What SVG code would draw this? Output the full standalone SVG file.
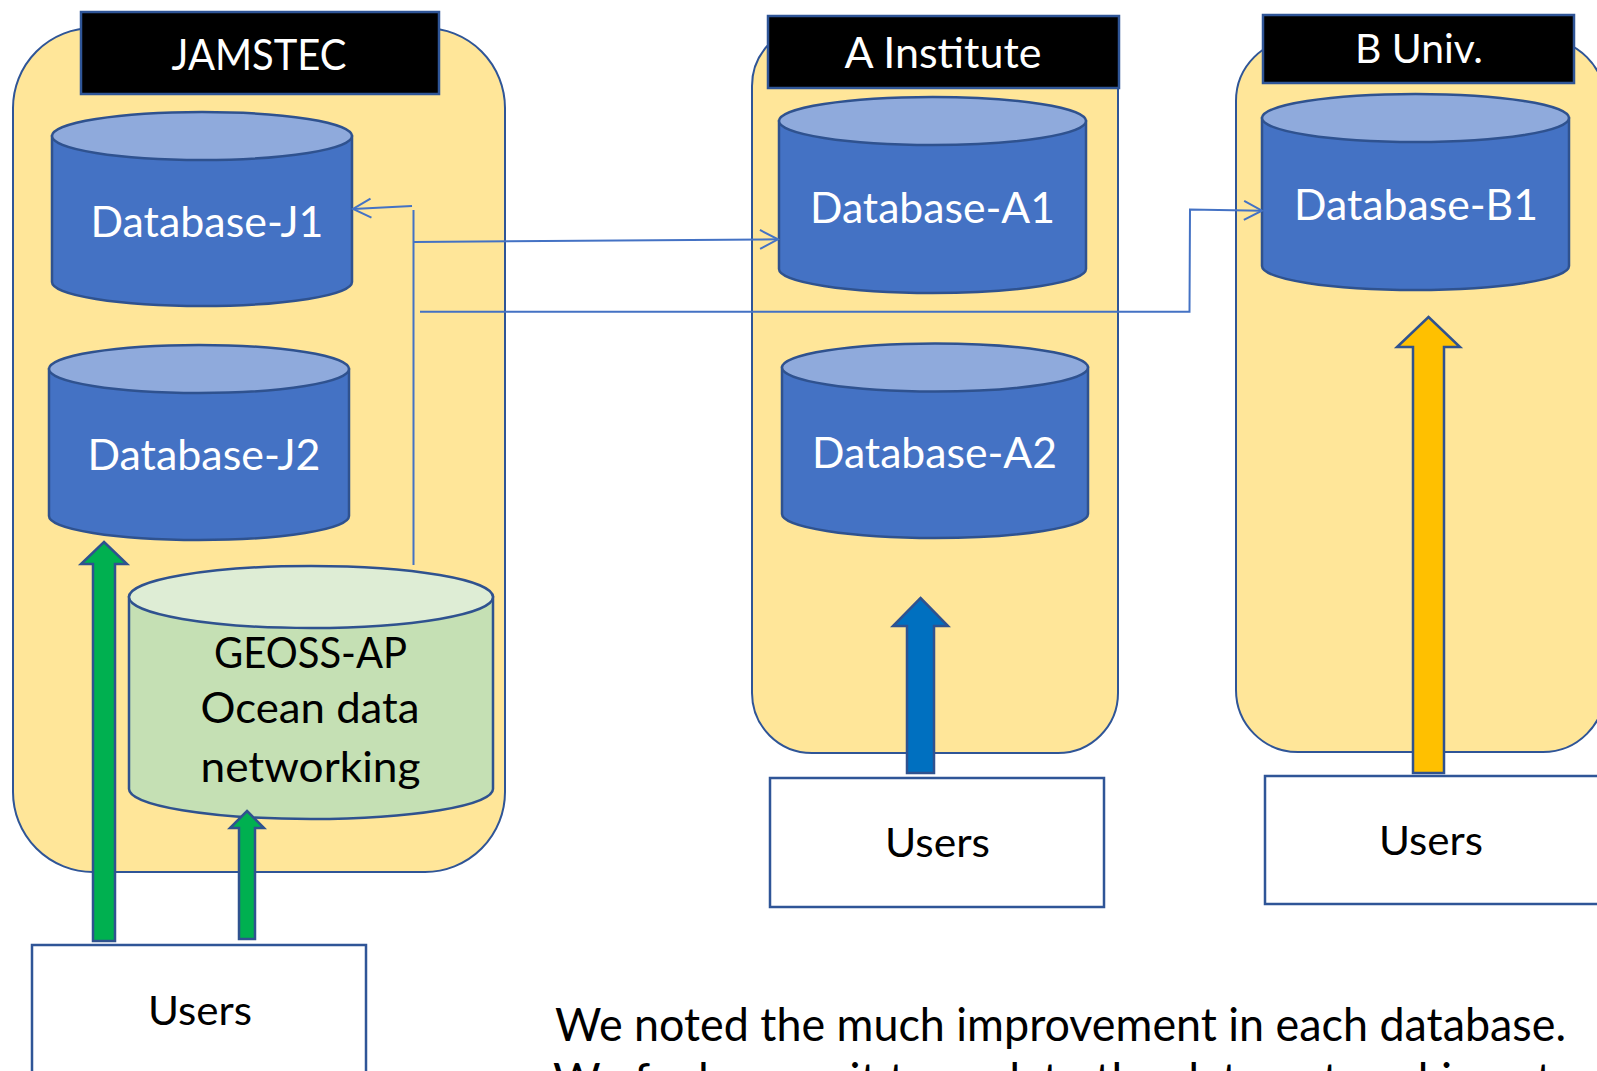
<svg xmlns="http://www.w3.org/2000/svg" width="1597" height="1071" viewBox="0 0 1597 1071">
<style>
.cont{fill:#FFE699;stroke:#2F5597;stroke-width:2}
.lab{fill:#000;stroke:#2F5597;stroke-width:2.5}
.body{fill:#4472C4;stroke:#2F528F;stroke-width:2.5}
.top{fill:#8FAADC;stroke:#2F528F;stroke-width:2.5}
.gbody{fill:#C5E0B4;stroke:#2F528F;stroke-width:2.5}
.gtop{fill:#DEEDD5;stroke:#2F528F;stroke-width:2.5}
.usr{fill:#fff;stroke:#2F5597;stroke-width:2.5}
.wt{font-family:Lato,"Open Sans",sans-serif;fill:#fff;text-anchor:middle}
.bt{font-family:Lato,"Open Sans",sans-serif;fill:#000;text-anchor:middle}
.conn{fill:none;stroke:#4472C4;stroke-width:2}
.arr{stroke:#2F528F;stroke-width:2.5;stroke-linejoin:miter}
</style>
<defs>
<marker id="open" markerUnits="userSpaceOnUse" viewBox="0 0 22 22" markerWidth="22" markerHeight="22" refX="19" refY="11" orient="auto">
<path d="M1,1.5 L19,11 L1,20.5" fill="none" stroke="#4472C4" stroke-width="2"/>
</marker>
</defs>
<rect width="1597" height="1071" fill="#fff"/>

<g id="jamstec">
<rect class="cont" x="13" y="28" width="492" height="844" rx="80"/>
<rect class="lab" x="81" y="12" width="358" height="82"/>
<text class="wt" x="259" y="70" font-size="42" textLength="175" lengthAdjust="spacingAndGlyphs">JAMSTEC</text>
</g>
<g id="a-institute">
<rect class="cont" x="752" y="26" width="366" height="727" rx="60"/>
<rect class="lab" x="768" y="16" width="351" height="72"/>
<text class="wt" x="943" y="68" font-size="42" textLength="197" lengthAdjust="spacingAndGlyphs">A Institute</text>
</g>
<g id="b-univ">
<rect class="cont" x="1236" y="39" width="369" height="713" rx="62"/>
<rect class="lab" x="1263" y="15" width="311" height="68"/>
<text class="wt" x="1419" y="63" font-size="40" textLength="128" lengthAdjust="spacingAndGlyphs">B Univ.</text>
</g>

<g id="db-j1">
<path class="body" d="M52,136 L52,282 A150,24 0 0 0 352,282 L352,136 Z"/>
<ellipse class="top" cx="202" cy="136" rx="150" ry="24"/>
<text class="wt" x="207" y="237" font-size="42" textLength="233" lengthAdjust="spacingAndGlyphs">Database-J1</text>
</g>
<g id="db-j2">
<path class="body" d="M49,369 L49,516 A150,24 0 0 0 349,516 L349,369 Z"/>
<ellipse class="top" cx="199" cy="369" rx="150" ry="24"/>
<text class="wt" x="204" y="470" font-size="42" textLength="233" lengthAdjust="spacingAndGlyphs">Database-J2</text>
</g>
<g id="geoss">
<path class="gbody" d="M129,597 L129,789 A182,30 0 0 0 493,789 L493,597 Z"/>
<ellipse class="gtop" cx="311" cy="597" rx="182" ry="31"/>
<text class="bt" x="310.5" y="668" font-size="42" textLength="193" lengthAdjust="spacingAndGlyphs">GEOSS-AP</text>
<text class="bt" x="310" y="722.5" font-size="42" textLength="219" lengthAdjust="spacingAndGlyphs">Ocean data</text>
<text class="bt" x="310.5" y="782" font-size="42" textLength="220" lengthAdjust="spacingAndGlyphs">networking</text>
</g>
<g id="db-a1">
<path class="body" d="M779,121 L779,269 A153.5,24 0 0 0 1086,269 L1086,121 Z"/>
<ellipse class="top" cx="932.5" cy="121" rx="153.5" ry="24"/>
<text class="wt" x="932.5" y="223" font-size="42" textLength="245" lengthAdjust="spacingAndGlyphs">Database-A1</text>
</g>
<g id="db-a2">
<path class="body" d="M782,367.5 L782,514 A153,24 0 0 0 1088,514 L1088,367.5 Z"/>
<ellipse class="top" cx="935" cy="367.5" rx="153" ry="24"/>
<text class="wt" x="934.5" y="468" font-size="42" textLength="245" lengthAdjust="spacingAndGlyphs">Database-A2</text>
</g>
<g id="db-b1">
<path class="body" d="M1262,118 L1262,266 A153.5,24 0 0 0 1569,266 L1569,118 Z"/>
<ellipse class="top" cx="1415.5" cy="118" rx="153.5" ry="24"/>
<text class="wt" x="1416" y="220" font-size="42" textLength="244" lengthAdjust="spacingAndGlyphs">Database-B1</text>
</g>

<g id="connectors">
<line class="conn" x1="412" y1="206" x2="353" y2="209" marker-end="url(#open)"/>
<line class="conn" x1="413.5" y1="210" x2="413.5" y2="565"/>
<line class="conn" x1="414" y1="242" x2="778" y2="239.3" marker-end="url(#open)"/>
<polyline class="conn" stroke-width="2.6" points="420,311.7 1189.5,311.7 1190,209.5 1262,210.7" marker-end="url(#open)"/>
<polygon class="arr" fill="#00B050" points="104,542 127,564 115,564 115,941 93,941 93,564 81,564"/>
<polygon class="arr" fill="#00B050" points="247,811 264,828 255,828 255,939 239,939 239,828 230,828"/>
<polygon class="arr" fill="#0070C0" points="920.5,598 948,626 934,626 934,773 907,773 907,626 893,626"/>
<polygon class="arr" fill="#FFC000" points="1428.5,317 1460,347 1444,347 1444,773 1413,773 1413,347 1397,347"/>
</g>

<g id="users-j">
<rect class="usr" x="32" y="945" width="334" height="200"/>
<text class="bt" x="200" y="1025" font-size="41" textLength="104" lengthAdjust="spacingAndGlyphs">Users</text>
</g>
<g id="users-a">
<rect class="usr" x="770" y="778" width="334" height="129"/>
<text class="bt" x="937.5" y="857" font-size="41" textLength="105" lengthAdjust="spacingAndGlyphs">Users</text>
</g>
<g id="users-b">
<rect class="usr" x="1265" y="776" width="360" height="128"/>
<text class="bt" x="1431" y="855" font-size="41" textLength="104" lengthAdjust="spacingAndGlyphs">Users</text>
</g>

<g id="note">
<text font-family="Lato,'Open Sans',sans-serif" font-size="46" fill="#000" x="555" y="1041" textLength="1011" lengthAdjust="spacingAndGlyphs">We noted the much improvement in each database.</text>
<text font-family="Lato,'Open Sans',sans-serif" font-size="46" fill="#000" x="553" y="1096">We feel we wait to update the data networking at</text>
</g>
</svg>
